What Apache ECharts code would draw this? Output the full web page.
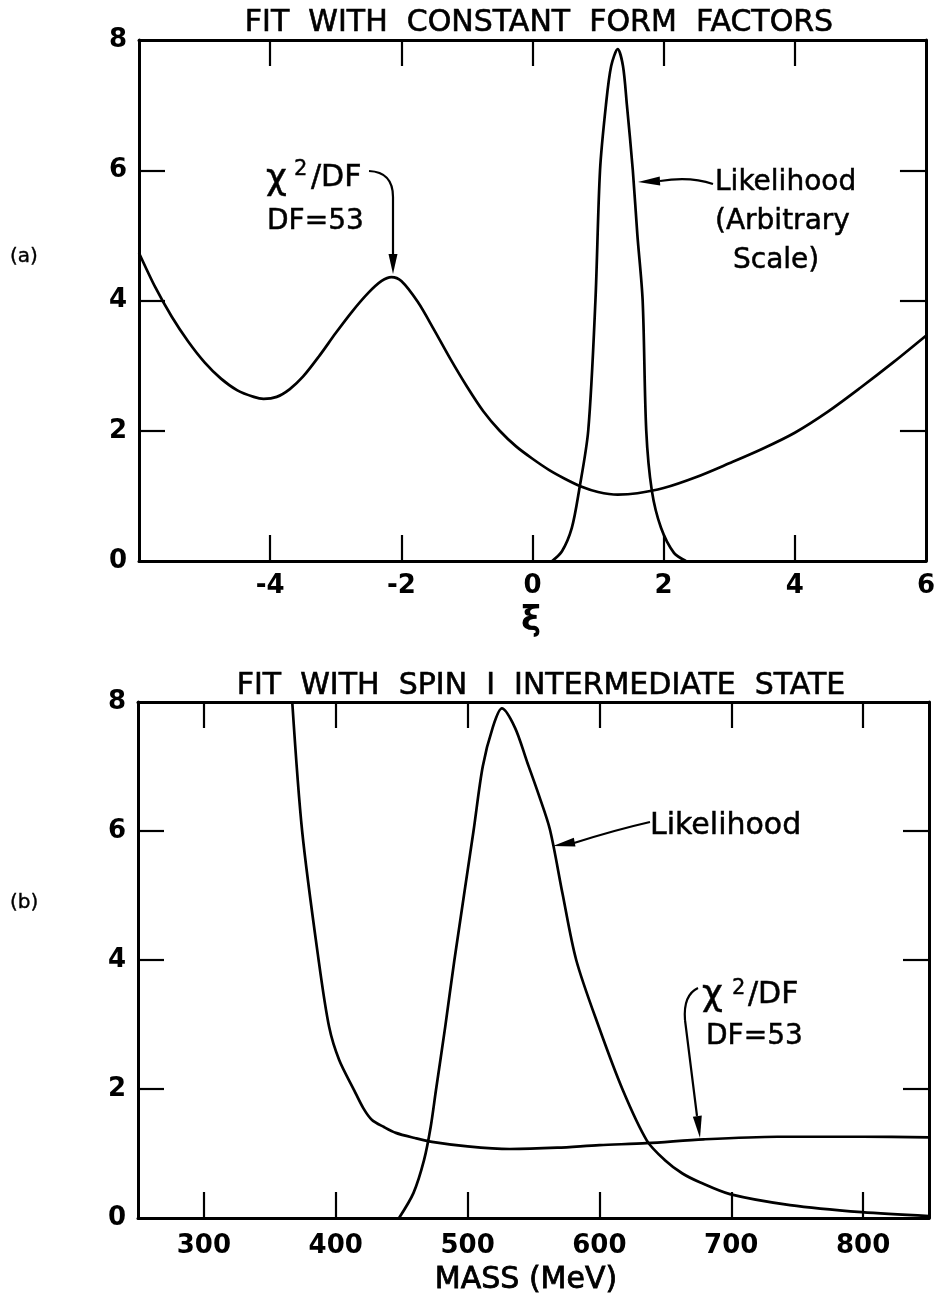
<!DOCTYPE html>
<html><head><meta charset="utf-8">
<script src="https://cdn.jsdelivr.net/npm/echarts/dist/echarts.min.js"></script>
<style>html,body{margin:0;padding:0;background:#fff}#c{width:938px;height:1299px}</style>
</head><body><div id="c"></div>
<script>
// ---- Panel (a): fit with constant form factors ----
const xiChi2A  = [-6, -5.75, -5.5, -5.25, -5.0, -4.75, -4.5, -4.25, -4.1, -3.9, -3.7, -3.5, -3.25, -3.0, -2.75, -2.5, -2.3, -2.15, -2.0, -1.75, -1.5, -1.25, -1.0, -0.75, -0.5, -0.25, 0, 0.25, 0.5, 0.75, 1.0, 1.3, 1.6, 2.0, 2.5, 3.0, 3.5, 4.0, 4.5, 5.0, 5.5, 6.0];
const chi2A    = [4.73, 4.2, 3.75, 3.37, 3.05, 2.8, 2.62, 2.52, 2.49, 2.52, 2.64, 2.83, 3.15, 3.5, 3.83, 4.12, 4.3, 4.36, 4.3, 3.98, 3.55, 3.1, 2.68, 2.3, 2.0, 1.76, 1.57, 1.4, 1.26, 1.14, 1.06, 1.02, 1.04, 1.12, 1.29, 1.5, 1.72, 1.97, 2.29, 2.66, 3.05, 3.46];
const xiLikeA  = [0.30, 0.45, 0.60, 0.71, 0.85, 0.96, 1.03, 1.12, 1.20, 1.30, 1.38, 1.44, 1.53, 1.60, 1.68, 1.735, 1.82, 1.96, 2.16, 2.34];
const likeA    = [0, 0.15, 0.51, 1.08, 2.0, 4.0, 6.0, 7.0, 7.6, 7.86, 7.6, 7.0, 6.0, 5.0, 4.0, 2.0, 1.08, 0.51, 0.12, 0];
const xTicksA  = [-4, -2, 0, 2, 4];
const xLabelsA = [-4, -2, 0, 2, 4, 6];

// ---- Panel (b): fit with spin 1 intermediate state ----
const massChi2B = [367, 374.5, 387, 395, 402.6, 414, 421, 427.5, 436.6, 445.6, 460, 473, 500, 532, 568, 600, 636, 679, 735, 800, 850];
const chi2B     = [8.0, 6.0, 4.0, 2.96, 2.45, 1.98, 1.7, 1.52, 1.41, 1.32, 1.24, 1.18, 1.11, 1.07, 1.09, 1.13, 1.16, 1.22, 1.26, 1.26, 1.25];
const massLikeB = [448, 459, 467, 472, 476, 483, 490, 504.5, 511.5, 519, 526, 536, 545, 554, 562.5, 572, 582.4, 599.6, 617.8, 636, 649.5, 663, 676.6, 699, 744.6, 799, 850];
const likeB     = [0, 0.39, 0.9, 1.41, 1.98, 2.96, 4.0, 6.0, 7.0, 7.6, 7.9, 7.6, 7.08, 6.56, 6.02, 5.03, 4.0, 2.96, 1.98, 1.2, 0.9, 0.69, 0.55, 0.37, 0.2, 0.09, 0.03];
const xTicksB   = [300, 400, 500, 600, 700, 800];

const yTicks  = [2, 4, 6];
const yLabels = [0, 2, 4, 6, 8];

const zip = (xs, ys) => xs.map((x, i) => [x, ys[i]]);

const labelFont = {color: '#000', fontFamily: 'DejaVu Sans', fontWeight: 'bold', fontSize: 26};
function axis(grid, pos, min, max, ticks, labels, margin) {
  return {
    type: 'value', gridIndex: grid, position: pos, min: min, max: max,
    axisLine: {show: true, onZero: false, lineStyle: {color: '#000', width: 3}},
    axisTick: {show: true, inside: true, length: 26, customValues: ticks, lineStyle: {color: '#000', width: 2.2}},
    axisLabel: Object.assign({show: !!labels, customValues: labels || [], margin: margin, showMinLabel: true, showMaxLabel: true}, labelFont),
    splitLine: {show: false}
  };
}
const line = (x, y, data) => ({
  type: 'line', xAxisIndex: x, yAxisIndex: y, data: data, showSymbol: false, symbol: 'none',
  smooth: 0.3, lineStyle: {color: '#000', width: 2.7}, silent: true
});

const chart = echarts.init(document.getElementById('c'), null, {renderer: 'canvas'});

function txt(text, x, y, size, align, family, weight, strokeW) {
  return {
    type: 'text', silent: true, x: x, y: y,
    style: {text: text, fill: '#000', fontFamily: family || 'DejaVu Sans', fontSize: size, fontWeight: weight || 'normal',
            stroke: strokeW ? '#000' : null, lineWidth: strokeW || 0,
            align: align || 'left', verticalAlign: 'middle', textAlign: align || 'left', textVerticalAlign: 'middle'}
  };
}
const stroke = {stroke: '#000', lineWidth: 2.2, fill: null};
function head(tx, ty, dx, dy, len, hw) {
  const n = Math.hypot(dx, dy); dx /= n; dy /= n;
  const bx = tx - dx * len, by = ty - dy * len;
  return {type: 'polygon', silent: true, shape: {points: [[tx, ty], [bx - dy * hw, by + dx * hw], [bx + dy * hw, by - dx * hw]]}, style: {fill: '#000'}};
}
const bez = (x1, y1, cx, cy, x2, y2) => ({type: 'bezierCurve', silent: true, shape: {x1: x1, y1: y1, cpx1: cx, cpy1: cy, x2: x2, y2: y2}, style: stroke});
const seg = (x1, y1, x2, y2) => ({type: 'line', silent: true, shape: {x1: x1, y1: y1, x2: x2, y2: y2}, style: stroke});

chart.setOption({
  animation: false,
  backgroundColor: '#fff',
  grid: [
    {left: 139, top: 40, width: 790, height: 521},
    {left: 138, top: 702, width: 791, height: 516}
  ],
  xAxis: [
    axis(0, 'bottom', -6, 6, xTicksA, xLabelsA, 12),
    axis(0, 'top', -6, 6, xTicksA, null, 10),
    axis(1, 'bottom', 250, 850, xTicksB, xTicksB, 15),
    axis(1, 'top', 250, 850, xTicksB, null, 10)
  ],
  yAxis: [
    axis(0, 'left', 0, 8, yTicks, yLabels, 12),
    axis(0, 'right', 0, 8, yTicks, null, 12),
    axis(1, 'left', 0, 8, yTicks, yLabels, 12),
    axis(1, 'right', 0, 8, yTicks, null, 12)
  ],
  series: [
    line(0, 0, zip(xiChi2A, chi2A)),
    line(0, 0, zip(xiLikeA, likeA)),
    line(2, 2, zip(massChi2B, chi2B)),
    line(2, 2, zip(massLikeB, likeB))
  ],
  graphic: [
    // titles and axis names
    txt('FIT  WITH  CONSTANT  FORM  FACTORS', 539, 23, 30, 'center', null, 'normal', 0.6),
    txt('FIT  WITH  SPIN  I  INTERMEDIATE  STATE', 541, 686, 30, 'center', null, 'normal', 0.6),
    txt('ξ', 531, 621, 34, 'center', null, 'bold'),
    txt('MASS (MeV)', 526, 1280, 30, 'center', null, 'normal', 0.8),
    // panel tags
    txt('(a)', 10, 257, 20, 'left', 'DejaVu Sans', 'normal', 0.4),
    txt('(b)', 10, 903, 20, 'left', 'DejaVu Sans', 'normal', 0.4),
    // panel (a) annotations
    txt('χ', 266, 180, 36, 'left', null, 'normal', 0.5),
    txt('2', 294, 170, 21, 'left', null, 'normal', 0.4),
    txt('/DF', 311, 178, 30, 'left', null, 'normal', 0.5),
    txt('DF=53', 267, 222, 28, 'left', null, 'normal', 0.5),
    txt('Likelihood', 715, 183, 28, 'left', null, 'normal', 0.5),
    txt('(Arbitrary', 715, 222, 28, 'left', null, 'normal', 0.5),
    txt('Scale)', 733, 261, 28, 'left', null, 'normal', 0.5),
    bez(369, 171, 393, 172, 393, 197),
    seg(393, 197, 393, 256),
    head(393, 274, 0, 1, 20, 4.5),
    bez(713, 184, 690, 176, 660, 181),
    head(638, 182, -1, 0.05, 22, 4.5),
    // panel (b) annotations
    txt('Likelihood', 650, 826, 30, 'left', null, 'normal', 0.5),
    txt('χ', 702, 996, 36, 'left', null, 'normal', 0.5),
    txt('2', 732, 989, 21, 'left', null, 'normal', 0.4),
    txt('/DF', 748, 995, 30, 'left', null, 'normal', 0.5),
    txt('DF=53', 706, 1037, 28, 'left', null, 'normal', 0.5),
    bez(650, 822, 615, 830, 574, 843),
    head(553, 846, -22, 4, 22, 4.5),
    bez(698, 988, 683, 995, 685, 1020),
    seg(685, 1020, 697, 1116),
    head(700, 1138, 12, 98, 22, 4.5)
  ]
});
</script></body></html>
